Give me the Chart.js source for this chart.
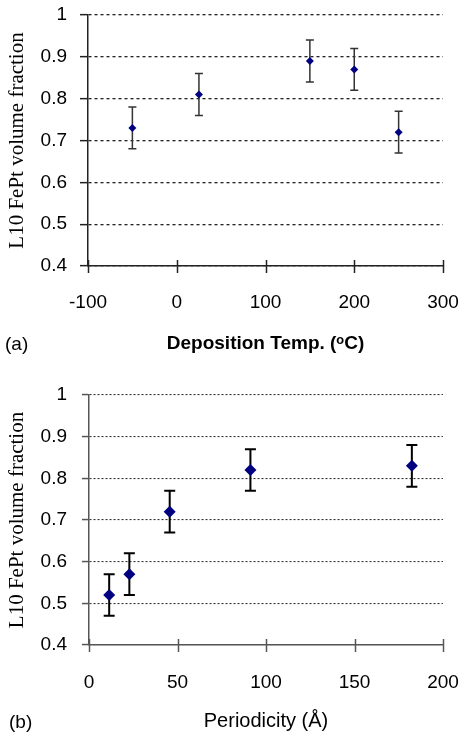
<!DOCTYPE html>
<html>
<head>
<meta charset="utf-8">
<script src="https://cdn.jsdelivr.net/npm/chart.js@4/dist/chart.umd.min.js"></script>
<style>
  html, body { margin: 0; padding: 0; background: #fff; }
  #wrap { position: relative; width: 461px; height: 737px; overflow: hidden; }
  .panel { position: absolute; left: 0; width: 461px; }
  .tag { position: absolute; font-family: 'Liberation Sans', Arial, sans-serif; font-size: 19px; line-height: 20px; color: #000; }
</style>
</head>
<body>
<div id="wrap">
  <div class="panel" style="top:0;height:370px;"><canvas id="c1" width="461" height="370"></canvas></div>
  <div class="panel" style="top:370px;height:367px;"><canvas id="c2" width="461" height="367"></canvas></div>
  <div class="tag" style="left:5px;top:334px;">(a)</div>
  <div class="tag" style="left:9px;top:712px;">(b)</div>
</div>
<script>
// ---- data ----
const tempX = [-50, 25, 150, 200, 250];
const tempY = [0.73, 0.81, 0.89, 0.87, 0.72];
const tempErr = [0.05, 0.05, 0.05, 0.05, 0.05];

const periodX = [11.4, 22.8, 45.6, 91.2, 182.4];
const periodY = [0.52, 0.57, 0.72, 0.82, 0.83];
const periodErr = [0.05, 0.05, 0.05, 0.05, 0.05];

const yTickValues = [0.4, 0.5, 0.6, 0.7, 0.8, 0.9, 1.0];
const yTickLabels = ['0.4', '0.5', '0.6', '0.7', '0.8', '0.9', '1'];
const tempTickValues = [-100, 0, 100, 200, 300];
const tempTickLabels = ['-100', '0', '100', '200', '300'];
const periodTickValues = [0, 50, 100, 150, 200];
const periodTickLabels = ['0', '50', '100', '150', '200'];

const yTitle = 'L10 FePt volume fraction';
const tempTitle = 'Deposition Temp. (\u1D52C)';
const periodTitle = 'Periodicity (\u00C5)';

Chart.defaults.font.family = "'Liberation Sans', Arial, sans-serif";
Chart.defaults.color = '#000';

const errorBarPlugin = {
  id: 'errorBars',
  beforeDatasetsDraw(chart) {
    const ctx = chart.ctx;
    const xs = chart.scales.x, ys = chart.scales.y;
    chart.data.datasets.forEach(ds => {
      const errs = ds.errorValues || [];
      const st = ds.errorStyle;
      ctx.save();
      ctx.strokeStyle = st.color;
      ctx.lineWidth = st.width;
      ds.data.forEach((p, i) => {
        const e = errs[i];
        const px = xs.getPixelForValue(p.x);
        const top = ys.getPixelForValue(p.y + e);
        const bot = ys.getPixelForValue(p.y - e);
        ctx.beginPath();
        ctx.moveTo(px, top); ctx.lineTo(px, bot);
        ctx.moveTo(px - st.cap, top); ctx.lineTo(px + st.cap, top);
        ctx.moveTo(px - st.cap, bot); ctx.lineTo(px + st.cap, bot);
        ctx.stroke();
      });
      ctx.restore();
    });
  }
};

const crossTickPlugin = {
  id: 'crossTicks',
  afterDraw(chart, args, opts) {
    const ctx = chart.ctx;
    const xs = chart.scales.x;
    const b = chart.chartArea.bottom;
    ctx.save();
    ctx.strokeStyle = opts.color;
    ctx.lineWidth = opts.width;
    xs.ticks.forEach(t => {
      const px = Math.round(xs.getPixelForValue(t.value)) + 0.5;
      ctx.beginPath();
      ctx.moveTo(px, b - opts.up);
      ctx.lineTo(px, b + opts.down);
      ctx.stroke();
    });
    ctx.restore();
  }
};

function makeChart(id, o) {
  const pts = o.xs.map((x, i) => ({ x: x, y: o.ys[i] }));
  return new Chart(document.getElementById(id), {
    type: 'scatter',
    data: {
      datasets: [{
        data: pts,
        errorValues: o.errs,
        errorStyle: o.errStyle,
        pointStyle: 'rectRot',
        pointRadius: o.markerR,
        pointHoverRadius: o.markerR,
        backgroundColor: '#000080',
        borderColor: '#000080',
        borderWidth: 0,
        showLine: false
      }]
    },
    options: {
      responsive: false,
      animation: false,
      events: [],
      layout: { padding: o.padding },
      plugins: {
        legend: { display: false },
        tooltip: { enabled: false },
        crossTicks: { color: o.axisColor, width: o.axisWidth, up: 6, down: 7 }
      },
      scales: {
        x: {
          type: 'linear',
          min: o.xTickValues[0],
          max: o.xTickValues[o.xTickValues.length - 1],
          afterBuildTicks: s => { s.ticks = o.xTickValues.map(v => ({ value: v })); },
          afterFit: s => { s.height = o.xHeight; s.paddingLeft = 0; s.paddingRight = 0; },
          grid: { display: false },
          border: { display: true, color: o.axisColor, width: o.axisWidth },
          ticks: {
            padding: o.xTickPad,
            maxRotation: 0,
            autoSkip: false,
            font: { size: 19 },
            color: '#000',
            callback: (v, i) => o.xTickLabels[i]
          },
          title: {
            display: true,
            text: o.xTitle,
            font: { size: o.xTitleSize, weight: o.xTitleWeight },
            color: '#000',
            padding: { top: 4, bottom: 4 }
          }
        },
        y: {
          type: 'linear',
          min: 0.4,
          max: 1.0,
          afterBuildTicks: s => { s.ticks = yTickValues.map(v => ({ value: v })); },
          afterFit: s => { s.width = o.yWidth; s.paddingTop = 0; s.paddingBottom = 0; },
          grid: {
            display: true,
            color: o.gridColor,
            lineWidth: o.gridWidth,
            drawTicks: true,
            tickLength: o.yTickLen,
            tickColor: o.axisColor,
            tickWidth: o.axisWidth
          },
          border: { display: true, color: o.axisColor, width: o.axisWidth, dash: o.gridDash },
          ticks: {
            padding: o.yTickPad,
            autoSkip: false,
            font: { size: 19 },
            color: '#000',
            callback: (v, i) => yTickLabels[i]
          },
          title: {
            display: true,
            text: yTitle,
            font: { family: "'Liberation Serif', 'Times New Roman', serif", size: 21 },
            color: '#000',
            padding: { top: 5, bottom: 0 }
          }
        }
      }
    },
    plugins: [errorBarPlugin, crossTickPlugin]
  });
}

makeChart('c1', {
  xs: tempX, ys: tempY, errs: tempErr,
  xTickValues: tempTickValues, xTickLabels: tempTickLabels,
  xTitle: tempTitle, xTitleWeight: 'bold', xTitleSize: 19,
  padding: { left: 0, right: 18, top: 15, bottom: 11 },
  xHeight: 93, yWidth: 88, xTickPad: 17, yTickPad: 13, yTickLen: 8,
  axisColor: '#222', axisWidth: 1.5,
  gridColor: '#222', gridWidth: 1.3, gridDash: [3, 3],
  markerR: 4,
  errStyle: { color: '#333', width: 1.5, cap: 4 }
});

makeChart('c2', {
  xs: periodX, ys: periodY, errs: periodErr,
  xTickValues: periodTickValues, xTickLabels: periodTickLabels,
  xTitle: periodTitle, xTitleWeight: 'normal', xTitleSize: 20,
  padding: { left: 0, right: 18, top: 25, bottom: 0 },
  xHeight: 92, yWidth: 89, xTickPad: 18, yTickPad: 15, yTickLen: 7,
  axisColor: '#555', axisWidth: 1.5,
  gridColor: '#333', gridWidth: 1.1, gridDash: [2, 2],
  markerR: 6,
  errStyle: { color: '#000', width: 2, cap: 5.5 }
});
</script>
</body>
</html>
